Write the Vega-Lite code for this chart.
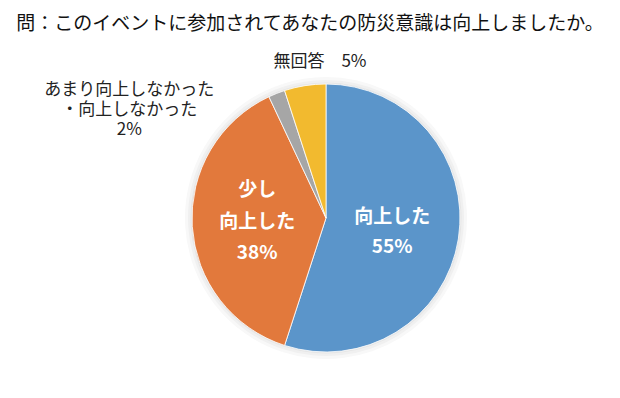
{
  "$schema": "https://vega.github.io/schema/vega-lite/v6.json",
  "width": 268,
  "height": 268,
  "autosize": {"type": "none"},
  "padding": {"left": 192, "top": 84, "right": 160, "bottom": 46},
  "background": "white",
  "title": {
    "text": "問：このイベントに参加されてあなたの防災意識は向上しましたか。",
    "anchor": "middle",
    "dx": -16,
    "offset": 19,
    "font": "Noto Sans CJK JP",
    "fontSize": 19,
    "fontWeight": "normal",
    "color": "#111111"
  },
  "config": {"view": {"stroke": null}},
  "data": {
    "values": [
      {"category": "向上した", "pct": 55, "order": 1, "label": "向上した\n55%"},
      {"category": "少し向上した", "pct": 38, "order": 2, "label": "少し\n向上した\n38%"},
      {"category": "あまり向上しなかった・向上しなかった", "pct": 2, "order": 3, "label": "あまり向上しなかった\n・向上しなかった\n2%"},
      {"category": "無回答", "pct": 5, "order": 4, "label": "無回答　5%"}
    ]
  },
  "encoding": {
    "theta": {"field": "pct", "type": "quantitative", "stack": true},
    "order": {"field": "order", "type": "quantitative"}
  },
  "layer": [
    {
      "mark": {"type": "arc", "radius": 141, "fill": "#f8f8f8", "strokeWidth": 0}
    },
    {
      "mark": {"type": "arc", "radius": 138, "fill": "#f0f0f0", "strokeWidth": 0}
    },
    {
      "mark": {"type": "arc", "radius": 135.5, "fill": "#e6e6e6", "strokeWidth": 0}
    },
    {
      "mark": {"type": "arc", "stroke": "#ffffff", "strokeWidth": 0.8},
      "encoding": {
        "color": {
          "field": "category",
          "type": "nominal",
          "scale": {
            "domain": ["向上した", "少し向上した", "あまり向上しなかった・向上しなかった", "無回答"],
            "range": ["#5B95CA", "#E2793C", "#A6A6A6", "#F2BA2F"]
          },
          "legend": null
        }
      }
    },
    {
      "mark": {"type": "text", "radius": 67, "dy": -11, "font": "Noto Sans CJK JP", "fontSize": 19, "fontWeight": "bold", "fill": "#ffffff", "lineBreak": "\n", "lineHeight": 30, "baseline": "middle", "align": "center"},
      "encoding": {
        "text": {"condition": {"test": "datum.order == 1", "field": "label"}, "value": ""}
      }
    },
    {
      "mark": {"type": "text", "radius": 67, "dx": -2, "dy": -32, "font": "Noto Sans CJK JP", "fontSize": 19, "fontWeight": "bold", "fill": "#ffffff", "lineBreak": "\n", "lineHeight": 31.5, "baseline": "middle", "align": "center"},
      "encoding": {
        "text": {"condition": {"test": "datum.order == 2", "field": "label"}, "value": ""}
      }
    },
    {
      "mark": {"type": "text", "radius": 160, "dx": 19, "dy": 2, "font": "Noto Sans CJK JP", "fontSize": 17, "fill": "#222222", "baseline": "middle", "align": "center"},
      "encoding": {
        "text": {"condition": {"test": "datum.order == 4", "field": "label"}, "value": ""}
      }
    },
    {
      "mark": {"type": "text", "radius": 116, "dx": -154, "dy": -20, "font": "Noto Sans CJK JP", "fontSize": 17, "fill": "#222222", "lineBreak": "\n", "lineHeight": 20, "baseline": "middle", "align": "center"},
      "encoding": {
        "text": {"condition": {"test": "datum.order == 3", "field": "label"}, "value": ""}
      }
    }
  ]
}
